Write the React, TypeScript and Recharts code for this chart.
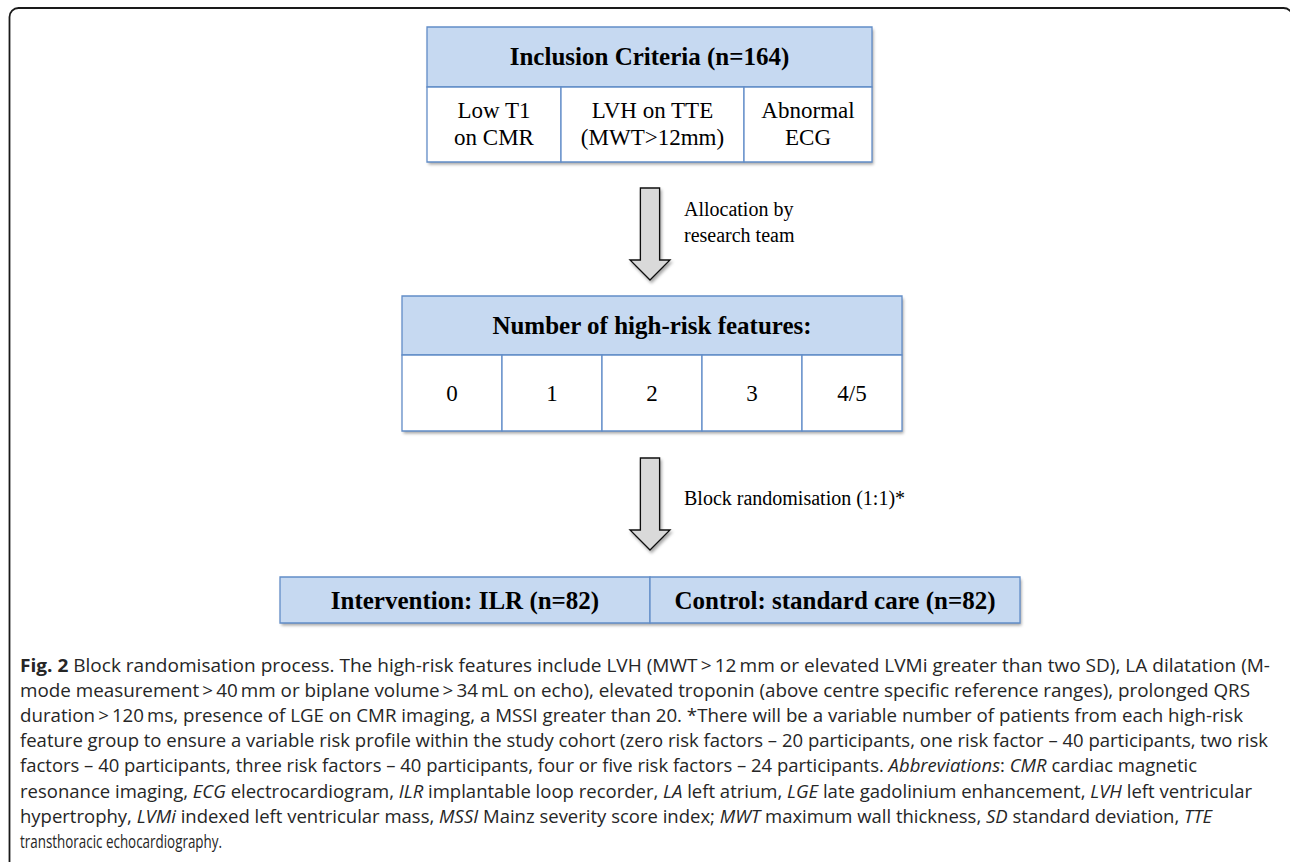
import React from "react"
import { ComposedChart, XAxis, YAxis, ReferenceArea, ReferenceDot } from "recharts"

// ---- content ----
const criteriaTitle = "Inclusion Criteria (n=164)"
const criteria = [["Low T1", "on CMR"], ["LVH on TTE", "(MWT>12mm)"], ["Abnormal", "ECG"]]
const featureTitle = "Number of high-risk features:"
const featureCounts = ["0", "1", "2", "3", "4/5"]
const arms = ["Intervention: ILR (n=82)", "Control: standard care (n=82)"]
const steps = [["Allocation by", "research team"], ["Block randomisation (1:1)*"]]

const captionLines = [
  "**Fig. 2** Block randomisation process. The high-risk features include LVH (MWT\u2009>\u200912\u2009mm or elevated LVMi greater than two SD), LA dilatation (M-",
  "mode measurement\u2009>\u200940\u2009mm or biplane volume\u2009>\u200934\u2009mL on echo), elevated troponin (above centre specific reference ranges), prolonged QRS",
  "duration\u2009>\u2009120\u2009ms, presence of LGE on CMR imaging, a MSSI greater than 20. *There will be a variable number of patients from each high-risk",
  "feature group to ensure a variable risk profile within the study cohort (zero risk factors \u2013 20 participants, one risk factor \u2013 40 participants, two risk",
  "factors \u2013 40 participants, three risk factors \u2013 40 participants, four or five risk factors \u2013 24 participants. _Abbreviations_: _CMR_ cardiac magnetic",
  "resonance imaging, _ECG_ electrocardiogram, _ILR_ implantable loop recorder, _LA_ left atrium, _LGE_ late gadolinium enhancement, _LVH_ left ventricular",
  "hypertrophy, _LVMi_ indexed left ventricular mass, _MSSI_ Mainz severity score index; _MWT_ maximum wall thickness, _SD_ standard deviation, _TTE_",
  "transthoracic echocardiography.",
]

// ---- layout (pixel units, the axes map 1:1) ----
const W = 1290
const H = 862
const criteriaCols = [427, 561, 744, 872]
const criteriaRows = [27, 87, 162]
const featureCols = [402, 502, 602, 702, 802, 902]
const featureRows = [296, 355, 431]
const armCols = [280, 650, 1020]
const armRows = [577, 623]
const arrowBoxes = [
  { x1: 630, x2: 670, y1: 188, y2: 280, tx: 684, ty: 216 },
  { x1: 630, x2: 670, y1: 458, y2: 550, tx: 684, ty: 505 },
]
const captionX = 20
const captionEnds = [1270, 1250, 1243, 1268, 1197, 1252, 1212, 222]
const captionTop = 672
const captionGap = 25.1

const serif = "'Liberation Serif', 'Times New Roman', Times, serif"
const headFill = "#c6d9f1"
const lineBlue = "#628dc8"

const CellText = (props: any) => {
  const { viewBox, lines, size, bold, shift = 0.35, gap } = props
  if (!viewBox) return null
  const { x, y, width, height } = viewBox
  const cx = x + width / 2
  const cy = y + height / 2
  const lh = gap ?? size * 1.2
  return (
    <text textAnchor="middle" fontFamily={serif} fontSize={size} fontWeight={bold ? 700 : 400} fill="#000">
      {lines.map((l: string, i: number) => (
        <tspan key={i} x={cx} y={cy + (i - (lines.length - 1) / 2) * lh + size * shift}>
          {l}
        </tspan>
      ))}
    </text>
  )
}

const StepText = (props: any) => {
  const { viewBox, lines } = props
  if (!viewBox) return null
  const x = viewBox.x + (viewBox.width || 0) / 2
  const y = viewBox.y + (viewBox.height || 0) / 2
  return (
    <text fontFamily={serif} fontSize={20} fill="#000">
      {lines.map((l: string, i: number) => (
        <tspan key={i} x={x} y={y + i * 26}>
          {l}
        </tspan>
      ))}
    </text>
  )
}

const BlockArrow = (props: any) => {
  const { x, y, width, height } = props
  const cx = x + width / 2
  const s = width * 0.24
  const hh = 20
  const d = `M${cx - s},${y} L${cx + s},${y} L${cx + s},${y + height - hh} L${x + width},${y + height - hh} L${cx},${y + height} L${x},${y + height - hh} L${cx - s},${y + height - hh} Z`
  return <path d={d} fill="#d9d9d9" stroke="#111" strokeWidth={1.3} strokeLinejoin="miter" filter="url(#shadow)" />
}

const BoxShape = (props: any) => {
  const { x, y, width, height } = props
  return <rect x={x} y={y} width={width} height={height} fill="#fff" filter="url(#shadow)" />
}

const renderCaption = (line: string, i: number) => {
  const parts = line.split(/(\*\*[^*]+\*\*|_[^_]+_)/).filter((p) => p.length > 0)
  const width = captionEnds[i] - captionX
  return (
    <text
      key={i}
      x={captionX}
      y={captionTop + i * captionGap}
      fontFamily="'Open Sans', 'Noto Sans', sans-serif"
      fontSize={18}
      fill="#262626"
      textLength={width}
      lengthAdjust="spacingAndGlyphs"
    >
      {parts.map((p, j) => {
        if (p.startsWith("**")) return <tspan key={j} fontWeight={700}>{p.slice(2, -2)}</tspan>
        if (p.startsWith("_")) return <tspan key={j} fontStyle="italic">{p.slice(1, -1)}</tspan>
        return <tspan key={j}>{p}</tspan>
      })}
    </text>
  )
}

export default function App() {
  return (
    <div style={{ position: "absolute", left: 0, top: 0, width: W, height: H, background: "#fff", overflow: "hidden" }}>
      <svg width={W} height={H} style={{ position: "absolute", left: 0, top: 0 }}>
        <defs>
          <filter id="shadow" x="-10%" y="-10%" width="130%" height="140%">
            <feDropShadow dx={1.5} dy={2.5} stdDeviation={1.5} floodColor="#000" floodOpacity={0.35} />
          </filter>
        </defs>
        <rect x={9.5} y={8} width={1283} height={900} rx={9} fill="none" stroke="#1a1a1a" strokeWidth={1.8} />
        {captionLines.map(renderCaption)}
      </svg>
      <div style={{ position: "absolute", left: 0, top: 0 }}>
        <ComposedChart width={W} height={H} data={[]} margin={{ top: 0, right: 0, bottom: 0, left: 0 }}>
          <XAxis type="number" dataKey="x" domain={[0, W]} hide allowDataOverflow />
          <YAxis type="number" dataKey="y" domain={[0, H]} reversed hide allowDataOverflow />

          {/* inclusion criteria table */}
          <ReferenceArea x1={criteriaCols[0]} x2={criteriaCols[3]} y1={criteriaRows[0]} y2={criteriaRows[2]} shape={BoxShape} ifOverflow="visible" />
          <ReferenceArea
            x1={criteriaCols[0]} x2={criteriaCols[3]} y1={criteriaRows[0]} y2={criteriaRows[1]}
            fill={headFill} fillOpacity={1} stroke={lineBlue} strokeWidth={1.3} ifOverflow="visible"
            label={<CellText lines={[criteriaTitle]} size={25} bold shift={0.3} />}
          />
          {criteria.map((c, i) => (
            <ReferenceArea
              key={"c" + i}
              x1={criteriaCols[i]} x2={criteriaCols[i + 1]} y1={criteriaRows[1]} y2={criteriaRows[2]}
              fill="#fff" fillOpacity={1} stroke={lineBlue} strokeWidth={1.3} ifOverflow="visible"
              label={<CellText lines={c} size={23} gap={27} shift={0.3} />}
            />
          ))}

          {/* risk feature table */}
          <ReferenceArea x1={featureCols[0]} x2={featureCols[5]} y1={featureRows[0]} y2={featureRows[2]} shape={BoxShape} ifOverflow="visible" />
          <ReferenceArea
            x1={featureCols[0]} x2={featureCols[5]} y1={featureRows[0]} y2={featureRows[1]}
            fill={headFill} fillOpacity={1} stroke={lineBlue} strokeWidth={1.3} ifOverflow="visible"
            label={<CellText lines={[featureTitle]} size={25} bold shift={0.35} />}
          />
          {featureCounts.map((f, i) => (
            <ReferenceArea
              key={"f" + i}
              x1={featureCols[i]} x2={featureCols[i + 1]} y1={featureRows[1]} y2={featureRows[2]}
              fill="#fff" fillOpacity={1} stroke={lineBlue} strokeWidth={1.3} ifOverflow="visible"
              label={<CellText lines={[f]} size={23} shift={0.33} />}
            />
          ))}

          {/* arms */}
          <ReferenceArea x1={armCols[0]} x2={armCols[2]} y1={armRows[0]} y2={armRows[1]} shape={BoxShape} ifOverflow="visible" />
          {arms.map((a, i) => (
            <ReferenceArea
              key={"a" + i}
              x1={armCols[i]} x2={armCols[i + 1]} y1={armRows[0]} y2={armRows[1]}
              fill={headFill} fillOpacity={1} stroke={lineBlue} strokeWidth={1.3} ifOverflow="visible"
              label={<CellText lines={[a]} size={25} bold shift={0.36} />}
            />
          ))}

          {/* arrows */}
          {arrowBoxes.map((b, i) => (
            <ReferenceArea key={"ar" + i} x1={b.x1} x2={b.x2} y1={b.y1} y2={b.y2} shape={BlockArrow} ifOverflow="visible" />
          ))}
          {arrowBoxes.map((b, i) => (
            <ReferenceDot
              key={"st" + i}
              x={b.tx}
              y={b.ty}
              r={0}
              fill="none"
              stroke="none"
              ifOverflow="visible"
              label={<StepText lines={steps[i]} />}
            />
          ))}
        </ComposedChart>
      </div>
    </div>
  )
}
